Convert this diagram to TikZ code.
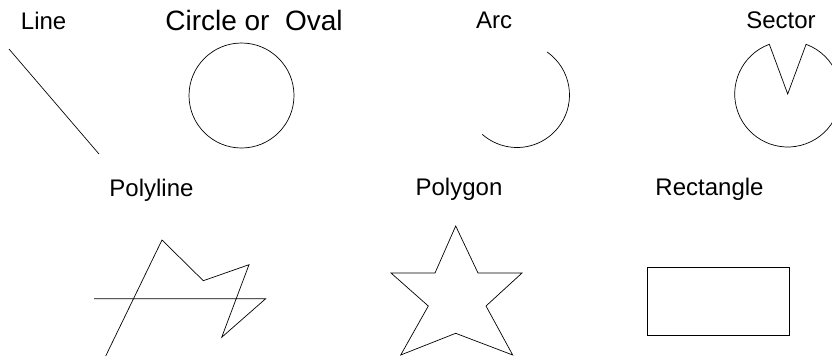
\documentclass[tikz,border=0pt]{standalone}
\usepackage{fontspec}
\setmainfont{Liberation Sans}
\usetikzlibrary{calc}
\tikzset{
  shape line/.style={line width=0.7pt,color=black,line join=miter},
  label text/.style={anchor=base,inner sep=0pt,font=\fontsize{24}{28}\selectfont},
  big text/.style={anchor=base,inner sep=0pt,font=\fontsize{28}{32}\selectfont}
}

\begin{document}
\begin{tikzpicture}[x=1pt,y=-1pt]
\useasboundingbox (0,0) rectangle (832,356);

% labels
\node[label text] (LabelLine) at (43.6,29) {Line};
\node[big text] (LabelCircle) at (254,30.7) {Circle or\ \ Oval};
\node[label text] (LabelArc) at (494.2,28) {Arc};
\node[label text] (LabelSector) at (781,28) {Sector};
\node[label text] (LabelPolyline) at (151.5,196) {Polyline};
\node[label text] (LabelPolygon) at (459,195) {Polygon};
\node[label text] (LabelRect) at (709.5,195) {Rectangle};

% first row
\draw[shape line] (9,49) -- (99,154);
\draw[shape line] (241.5,95.5) circle (52.5);
\coordinate (ArcC) at (517,95);
\draw[shape line] ($(ArcC)+(55:52.5 and -52.5)$) arc[start angle=55,end angle=-131.4,x radius=52.5,y radius=-52.5];
\coordinate (SecC) at (787.7,94);
\draw[shape line] (SecC) -- ($(SecC)+(110.3:53 and -53)$) arc[start angle=110.3,end angle=429.7,x radius=53,y radius=-53] -- cycle;

% second row
\draw[shape line] (105.7,356) -- (162,240) -- (203.3,280.7) -- (249,264.7)
  -- (221.7,337.3) -- (265.7,298.7) -- (94,298.7);
\draw[shape line] (455.7,226) -- (478,273) -- (522,273) -- (486,306) -- (512.7,355)
  -- (455.7,333.3) -- (400.7,355) -- (428.3,306) -- (391,273) -- (435,273) -- cycle;
\draw[shape line] (647.3,267.3) rectangle (789.3,335.3);
\end{tikzpicture}
\end{document}
